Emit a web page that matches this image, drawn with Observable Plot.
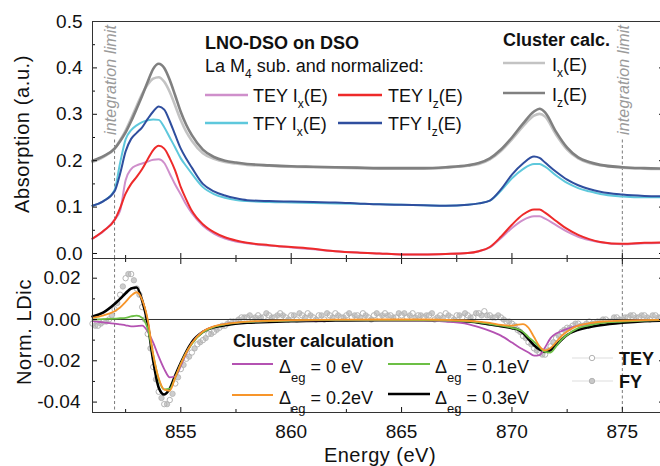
<!DOCTYPE html>
<html><head><meta charset="utf-8">
<script src="https://cdn.jsdelivr.net/npm/d3@7"></script>
<script src="https://cdn.jsdelivr.net/npm/@observablehq/plot@0.6"></script>
<style>
html,body{margin:0;padding:0;background:#fff;overflow:hidden;width:660px;height:466px}
#chart{position:relative;width:664px;height:466px}
#chart svg{display:block}
</style></head><body><div id="chart"></div>
<script>
// ---------- DATA ----------
const energyTop = [851, 851.5, 852, 852.25, 852.5, 852.75, 853, 853.25, 853.5, 853.75, 854, 854.25, 854.5, 854.75, 855, 855.25, 855.5, 856, 856.5, 857, 857.5, 858, 859, 860, 861, 862, 863, 864, 865, 866, 867, 868, 868.5, 869, 869.5, 870, 870.5, 871, 871.25, 871.5, 872, 872.5, 873, 873.5, 874, 875, 876, 877];
const teyIx = [0.032, 0.048, 0.073, 0.092, 0.158, 0.182, 0.190, 0.194, 0.198, 0.202, 0.203, 0.195, 0.172, 0.148, 0.127, 0.105, 0.087, 0.060, 0.043, 0.032, 0.026, 0.022, 0.017, 0.013, 0.009, 0.005, 0.002, 0.000, -0.002, -0.002, -0.001, 0.001, 0.005, 0.013, 0.033, 0.055, 0.072, 0.080, 0.080, 0.075, 0.061, 0.047, 0.036, 0.029, 0.024, 0.020, 0.022, 0.023];
const teyIz = [0.032, 0.049, 0.072, 0.098, 0.129, 0.150, 0.165, 0.182, 0.203, 0.223, 0.232, 0.226, 0.205, 0.178, 0.143, 0.116, 0.092, 0.063, 0.046, 0.035, 0.028, 0.023, 0.018, 0.014, 0.010, 0.005, 0.002, 0.000, -0.002, -0.002, -0.001, 0.001, 0.005, 0.014, 0.036, 0.062, 0.084, 0.095, 0.095, 0.088, 0.070, 0.053, 0.040, 0.031, 0.025, 0.021, 0.023, 0.024];
const tfyIx = [0.103, 0.113, 0.137, 0.195, 0.246, 0.266, 0.276, 0.283, 0.287, 0.289, 0.288, 0.272, 0.250, 0.228, 0.205, 0.188, 0.172, 0.143, 0.128, 0.120, 0.115, 0.113, 0.111, 0.110, 0.109, 0.108, 0.107, 0.106, 0.105, 0.104, 0.103, 0.105, 0.108, 0.114, 0.135, 0.162, 0.182, 0.193, 0.193, 0.187, 0.168, 0.152, 0.141, 0.134, 0.128, 0.123, 0.121, 0.121];
const tfyIz = [0.103, 0.113, 0.134, 0.172, 0.220, 0.247, 0.260, 0.272, 0.290, 0.306, 0.317, 0.310, 0.285, 0.255, 0.226, 0.204, 0.185, 0.150, 0.134, 0.125, 0.119, 0.115, 0.113, 0.112, 0.111, 0.110, 0.108, 0.106, 0.105, 0.104, 0.103, 0.105, 0.108, 0.114, 0.138, 0.170, 0.194, 0.209, 0.206, 0.196, 0.176, 0.159, 0.147, 0.139, 0.133, 0.127, 0.124, 0.123];
const calcIx = [0.197, 0.208, 0.226, 0.244, 0.265, 0.291, 0.318, 0.344, 0.364, 0.377, 0.380, 0.370, 0.348, 0.318, 0.287, 0.262, 0.243, 0.216, 0.204, 0.197, 0.194, 0.191, 0.189, 0.187, 0.186, 0.185, 0.184, 0.183, 0.183, 0.183, 0.185, 0.189, 0.193, 0.203, 0.221, 0.246, 0.274, 0.297, 0.301, 0.295, 0.256, 0.224, 0.205, 0.195, 0.190, 0.185, 0.183, 0.182];
const calcIz = [0.200, 0.210, 0.226, 0.242, 0.261, 0.285, 0.312, 0.340, 0.370, 0.398, 0.409, 0.400, 0.374, 0.340, 0.305, 0.277, 0.255, 0.224, 0.208, 0.200, 0.196, 0.193, 0.190, 0.188, 0.187, 0.186, 0.185, 0.184, 0.184, 0.184, 0.186, 0.190, 0.195, 0.205, 0.224, 0.250, 0.280, 0.306, 0.312, 0.304, 0.262, 0.228, 0.207, 0.197, 0.191, 0.186, 0.184, 0.183];

const energyCalc = [851, 851.5, 852, 852.25, 852.5, 852.75, 853, 853.25, 853.5, 853.75, 854, 854.25, 854.5, 854.75, 855, 855.25, 855.5, 856, 856.5, 857, 858, 859, 860, 862, 864, 866, 867, 868, 868.5, 869, 869.5, 870, 870.25, 870.5, 870.75, 871, 871.25, 871.5, 871.75, 872, 872.25, 872.5, 873, 873.5, 874, 875, 876, 877];
const ld00 = [-0.0008, -0.0014, -0.0020, -0.0024, -0.0028, -0.0033, -0.0032, -0.0030, -0.0058, -0.0112, -0.0180, -0.0240, -0.0280, -0.0275, -0.0225, -0.0165, -0.0115, -0.0058, -0.0034, -0.0022, -0.0012, -0.0008, -0.0005, -0.0003, -0.0003, -0.0004, -0.0010, -0.0022, -0.0037, -0.0055, -0.0078, -0.0112, -0.0130, -0.0145, -0.0160, -0.0175, -0.0172, -0.0135, -0.0090, -0.0068, -0.0056, -0.0045, -0.0030, -0.0020, -0.0014, -0.0008, -0.0004, -0.0003];
const ld01 = [0.0000, 0.0002, 0.0004, 0.0006, 0.0008, 0.0015, 0.0019, 0.0008, -0.0045, -0.0170, -0.0290, -0.0338, -0.0335, -0.0280, -0.0215, -0.0160, -0.0118, -0.0062, -0.0036, -0.0024, -0.0012, -0.0008, -0.0005, -0.0002, -0.0002, -0.0003, -0.0005, -0.0009, -0.0014, -0.0022, -0.0030, -0.0040, -0.0047, -0.0060, -0.0085, -0.0108, -0.0135, -0.0157, -0.0160, -0.0130, -0.0098, -0.0075, -0.0042, -0.0028, -0.0018, -0.0010, -0.0005, -0.0003];
const ld02 = [0.0008, 0.0020, 0.0040, 0.0058, 0.0085, 0.0115, 0.0132, 0.0095, 0.0000, -0.0170, -0.0285, -0.0340, -0.0345, -0.0280, -0.0215, -0.0160, -0.0115, -0.0058, -0.0033, -0.0022, -0.0010, -0.0006, -0.0003, -0.0001, 0.0000, 0.0000, -0.0002, -0.0006, -0.0010, -0.0016, -0.0026, -0.0030, -0.0025, -0.0022, -0.0040, -0.0085, -0.0130, -0.0150, -0.0138, -0.0110, -0.0080, -0.0058, -0.0030, -0.0018, -0.0011, -0.0006, -0.0003, -0.0002];
const ld03 = [0.0015, 0.0035, 0.0075, 0.0100, 0.0127, 0.0150, 0.0155, 0.0092, -0.0020, -0.0200, -0.0330, -0.0363, -0.0335, -0.0270, -0.0210, -0.0155, -0.0110, -0.0060, -0.0038, -0.0028, -0.0016, -0.0012, -0.0008, -0.0005, -0.0004, -0.0004, -0.0006, -0.0010, -0.0015, -0.0024, -0.0032, -0.0042, -0.0048, -0.0065, -0.0095, -0.0125, -0.0145, -0.0157, -0.0148, -0.0125, -0.0098, -0.0075, -0.0050, -0.0037, -0.0028, -0.0016, -0.0008, -0.0005];

// experimental LD, 0.25 eV steps; TEY starts at 851.0, FY at 851.125
const expStart = {tey: 851.0, fy: 851.125};
const expStep = 0.25;
const ldTey = [
 -0.002, -0.003, -0.001, 0.000,  0.005, 0.012, 0.020, 0.022,  0.015, 0.006, -0.007, -0.023,
 -0.035, -0.041, -0.039, -0.031,  -0.024, -0.019, -0.016, -0.012,  -0.010, -0.007, -0.006, -0.004,
 -0.003, -0.001, -0.001, 0.001,  0.001, 0.000, 0.002, 0.001,  0.002, 0.001, 0.003, 0.001,
 0.002, 0.000, 0.002, 0.003,  0.001, 0.002, 0.000, 0.002,  0.003, 0.001, 0.002, 0.001,
 0.002, 0.003, 0.001, 0.002,  0.001, 0.003, 0.002, 0.001,  0.002, 0.001, 0.003, 0.002,
 0.001, 0.002, 0.000, 0.002,  0.003, 0.001, 0.002, 0.001,  0.002, 0.001, 0.003, 0.004,
 0.002, 0.001, 0.001, -0.001,  -0.002, -0.005, -0.008, -0.011,  -0.014, -0.016, -0.017, -0.013,
 -0.009, -0.006, -0.004, -0.003,  -0.002, -0.003, -0.001, -0.002,  -0.001, 0.000, -0.001, 0.001,
 0.000, 0.001, 0.002, 0.001,  0.002, 0.000, 0.002, 0.001];
const ldFy = [
 -0.003, -0.002, -0.001, 0.002,  0.008, 0.016, 0.022, 0.019,  0.012, 0.000, -0.014, -0.029,
 -0.038, -0.041, -0.036, -0.028,  -0.022, -0.018, -0.014, -0.011,  -0.009, -0.007, -0.005, -0.003,
 -0.002, -0.001, 0.000, 0.001,  0.002, 0.001, 0.001, 0.003,  0.001, 0.002, 0.002, 0.000,
 0.002, 0.003, 0.001, 0.002,  0.000, 0.002, 0.003, 0.001,  0.002, 0.001, 0.003, 0.002,
 0.001, 0.002, 0.000, 0.003,  0.002, 0.002, 0.001, 0.003,  0.003, 0.002, 0.001, 0.002,
 0.002, 0.003, 0.001, 0.001,  0.002, 0.000, 0.002, 0.003,  0.001, 0.003, 0.002, 0.002,
 0.001, 0.002, 0.000, -0.001,  -0.003, -0.006, -0.009, -0.012,  -0.015, -0.017, -0.015, -0.011,
 -0.008, -0.005, -0.004, -0.002,  -0.003, -0.002, -0.002, -0.001,  0.000, -0.001, 0.001, 0.000,
 0.001, 0.002, 0.001, 0.002,  0.001, 0.002, 0.001, 0.002];

const integrationLimits = [852, 875];
const xMajor = [855, 860, 865, 870, 875];
const xMinor = [852.5, 857.5, 862.5, 867.5, 872.5];
const yTopMajor = [0, 0.1, 0.2, 0.3, 0.4, 0.5];
const yTopMinor = [0.05, 0.15, 0.25, 0.35, 0.45];
const yBotMajor = [-0.04, -0.02, 0, 0.02];
const yBotMinor = [-0.03, -0.01, 0.01];

// ---------- STYLE ----------
const FONT = "'Liberation Sans', Arial, Helvetica, sans-serif";
const W = 664;
const xDomain = [851, 876.91];
const C = {
  teyIx: "#cf8fcb", teyIz: "#ee2a2a", tfyIx: "#5ec8dc", tfyIz: "#2f4e9e",
  calcIx: "#c3c3c3", calcIz: "#808080",
  d0: "#b452b2", d1: "#6cbf45", d2: "#f7952a", d3: "#000000",
  dots: "#b4b4b4", limit: "#7a7a7a", axis: "#333"
};
const blank = () => "";
function yAxes(major, minor, fmt, pad) {
  return [
    Plot.axisY({anchor: "left", ticks: major, tickSize: -5, tickPadding: pad, tickFormat: fmt, label: null}),
    Plot.axisY({anchor: "left", ticks: minor, tickSize: -3, tickFormat: blank, label: null}),
    Plot.axisY({anchor: "right", ticks: major, tickSize: -6, tickFormat: blank, label: null}),
    Plot.axisY({anchor: "right", ticks: minor, tickSize: -4, tickFormat: blank, label: null})
  ];
}
const plotStyle = {fontFamily: FONT, fontSize: "19px", color: "#111", background: "transparent", maxWidth: "none", overflow: "visible"};
const lineOpts = (x, y, stroke, w) => ({x, y, stroke, strokeWidth: w, curve: "monotone-x"});

// ---------- TOP PANEL ----------
const topPlot = Plot.plot({
  width: W, height: 258, marginLeft: 92, marginRight: 0, marginTop: 21, marginBottom: 0,
  style: plotStyle,
  x: {domain: xDomain},
  y: {domain: [-0.0108, 0.5]},
  marks: [
    Plot.ruleX(integrationLimits, {y1: -0.0108, y2: 0.25, stroke: C.limit, strokeDasharray: "3,2.5"}),
    Plot.line(energyTop, lineOpts(energyTop, calcIx, C.calcIx, 2.6)),
    Plot.line(energyTop, lineOpts(energyTop, calcIz, C.calcIz, 2.6)),
    Plot.line(energyTop, lineOpts(energyTop, tfyIx, C.tfyIx, 2)),
    Plot.line(energyTop, lineOpts(energyTop, tfyIz, C.tfyIz, 2)),
    Plot.line(energyTop, lineOpts(energyTop, teyIx, C.teyIx, 2)),
    Plot.line(energyTop, lineOpts(energyTop, teyIz, C.teyIz, 2)),
    ...yAxes(yTopMajor, yTopMinor, d3.format(".1f"), 15),
    Plot.axisX({anchor: "bottom", ticks: xMajor, tickSize: -5, tickFormat: blank, label: null}),
    Plot.axisX({anchor: "bottom", ticks: xMinor, tickSize: -3, tickFormat: blank, label: null}),
    Plot.ruleY([0.5], {stroke: C.axis}),
    Plot.ruleY([-0.0108], {stroke: C.axis}),
    Plot.ruleX([851], {stroke: C.axis})
  ]
});

// ---------- BOTTOM PANEL ----------
const teyPts = ldTey.map((v, i) => ({e: expStart.tey + i * expStep, v}));
const fyPts = ldFy.map((v, i) => ({e: expStart.fy + i * expStep, v}));
const botPlot = Plot.plot({
  width: W, height: 208, marginLeft: 92, marginRight: 0, marginTop: 0, marginBottom: 54,
  style: plotStyle,
  x: {domain: xDomain},
  y: {domain: [-0.04504, 0.02954]},
  marks: [
    Plot.ruleX(integrationLimits, {stroke: C.limit, strokeDasharray: "3,2.5"}),
    Plot.dot(fyPts, {x: "e", y: "v", r: 2.7, fill: "#cdcdcd", stroke: C.dots, strokeWidth: 0.8}),
    Plot.dot(teyPts, {x: "e", y: "v", r: 2.7, fill: "none", stroke: C.dots, strokeWidth: 1}),
    Plot.ruleY([0], {stroke: "#333", strokeWidth: 1}),
    Plot.line(energyCalc, lineOpts(energyCalc, ld03, C.d3, 2.6)),
    Plot.line(energyCalc, lineOpts(energyCalc, ld00, C.d0, 1.8)),
    Plot.line(energyCalc, lineOpts(energyCalc, ld01, C.d1, 1.8)),
    Plot.line(energyCalc, lineOpts(energyCalc, ld02, C.d2, 1.8)),
    ...yAxes(yBotMajor, yBotMinor, d => d.toFixed(2), 17),
    Plot.axisX({anchor: "bottom", ticks: xMajor, tickSize: -5, tickPadding: 17, tickFormat: d3.format("d"), label: null}),
    Plot.axisX({anchor: "bottom", ticks: xMinor, tickSize: -3, tickFormat: blank, label: null}),
    Plot.axisX({anchor: "top", ticks: xMajor, tickSize: -5, tickFormat: blank, label: null}),
    Plot.axisX({anchor: "top", ticks: xMinor, tickSize: -3, tickFormat: blank, label: null}),
    Plot.ruleY([0.02954], {stroke: C.axis}),
    Plot.ruleY([-0.04504], {stroke: C.axis}),
    Plot.ruleX([851], {stroke: C.axis})
  ]
});

const chart = document.getElementById("chart");
chart.append(topPlot, botPlot);

// ---------- OVERLAY: titles & legends ----------
const ov = d3.select(chart).append("svg")
  .attr("width", 660).attr("height", 466)
  .style("position", "absolute").style("left", "0px").style("top", "0px")
  .style("font-family", FONT).style("pointer-events", "none");

// "integration limit" labels, positioned through the plot's own x scale
const xs = topPlot.scale("x");
[[integrationLimits[0], -4], [integrationLimits[1], 2]].forEach(([e, off]) => {
  const px = xs.apply(e) + off;
  ov.append("text").attr("transform", `translate(${px},25) rotate(-90)`)
    .attr("text-anchor", "end").attr("dominant-baseline", "central")
    .attr("font-size", 16).attr("font-style", "italic").attr("fill", "#9a9a9a")
    .attr("textLength", 110).attr("lengthAdjust", "spacing")
    .text("integration limit");
});

function swatch(x1, x2, y, color, w) {
  ov.append("line").attr("x1", x1).attr("x2", x2).attr("y1", y).attr("y2", y)
    .attr("stroke", color).attr("stroke-width", w);
}
function rich(x, y, parts, size = 18, weight = "normal", subSize = 12, drop = 6) {
  const t = ov.append("text").attr("x", x).attr("y", y).attr("font-size", size)
    .attr("font-weight", weight).attr("fill", "#111");
  let shifted = false;
  parts.forEach(p => {
    const s = t.append("tspan").text(p.t);
    if (p.sub) { s.attr("font-size", subSize).attr("dy", drop); shifted = true; }
    else if (shifted) { s.attr("dy", -drop); shifted = false; }
  });
  return t;
}

// axis titles
ov.append("text").attr("transform", "translate(29,134) rotate(-90)").attr("text-anchor", "middle")
  .attr("font-size", 20).attr("letter-spacing", "0.6px").attr("fill", "#111").text("Absorption (a.u.)");
ov.append("text").attr("transform", "translate(31,332) rotate(-90)").attr("text-anchor", "middle")
  .attr("font-size", 20).attr("letter-spacing", "0.6px").attr("fill", "#111").text("Norm. LDic");
ov.append("text").attr("x", 380).attr("y", 462).attr("text-anchor", "middle")
  .attr("font-size", 20).attr("letter-spacing", "0.5px").attr("fill", "#111").text("Energy (eV)");

// top-left legend
rich(205, 49, [{t: "LNO-DSO on DSO"}], 18, "bold");
rich(205, 72, [{t: "La M"}, {t: "4", sub: true}, {t: " sub. and normalized:"}]);
swatch(205, 248, 95, C.teyIx, 2.5);
rich(253, 102, [{t: "TEY I"}, {t: "x", sub: true}, {t: "(E)"}]);
swatch(205, 248, 123, C.tfyIx, 2.5);
rich(253, 130, [{t: "TFY I"}, {t: "x", sub: true}, {t: "(E)"}]);
swatch(338, 382, 95, C.teyIz, 2.5);
rich(388, 102, [{t: "TEY I"}, {t: "z", sub: true}, {t: "(E)"}]);
swatch(338, 382, 123, C.tfyIz, 2.5);
rich(388, 130, [{t: "TFY I"}, {t: "z", sub: true}, {t: "(E)"}]);

// top-right legend
rich(503, 46, [{t: "Cluster calc."}], 18, "bold");
swatch(503, 545, 63, C.calcIx, 2.6);
rich(552, 71, [{t: "I"}, {t: "x", sub: true}, {t: "(E)"}]);
swatch(503, 545, 93, C.calcIz, 2.6);
rich(552, 101, [{t: "I"}, {t: "z", sub: true}, {t: "(E)"}]);

// bottom legend
rich(233, 347, [{t: "Cluster calculation"}], 18, "bold");
swatch(232, 273, 364, C.d0, 2);
rich(279, 373, [{t: "\u0394"}, {t: "eg", sub: true}, {t: " = 0 eV"}], 18, "normal", 13, 9);
swatch(232, 273, 395, C.d2, 2);
rich(279, 404, [{t: "\u0394"}, {t: "eg", sub: true}, {t: " = 0.2eV"}], 18, "normal", 13, 9);
swatch(388, 430, 364, C.d1, 2);
rich(435, 373, [{t: "\u0394"}, {t: "eg", sub: true}, {t: " = 0.1eV"}], 18, "normal", 13, 9);
swatch(388, 430, 394, C.d3, 2.6);
rich(435, 404, [{t: "\u0394"}, {t: "eg", sub: true}, {t: " = 0.3eV"}], 18, "normal", 13, 9);

// experimental markers legend
swatch(572, 613, 358, "#dddddd", 1);
ov.append("circle").attr("cx", 592).attr("cy", 358).attr("r", 2.7).attr("fill", "white").attr("stroke", C.dots);
rich(619, 365, [{t: "TEY"}], 18, "bold");
swatch(572, 613, 381, "#dddddd", 1);
ov.append("circle").attr("cx", 592).attr("cy", 381).attr("r", 2.7).attr("fill", "#c8c8c8").attr("stroke", C.dots);
rich(619, 388, [{t: "FY"}], 18, "bold");
</script></body></html>
